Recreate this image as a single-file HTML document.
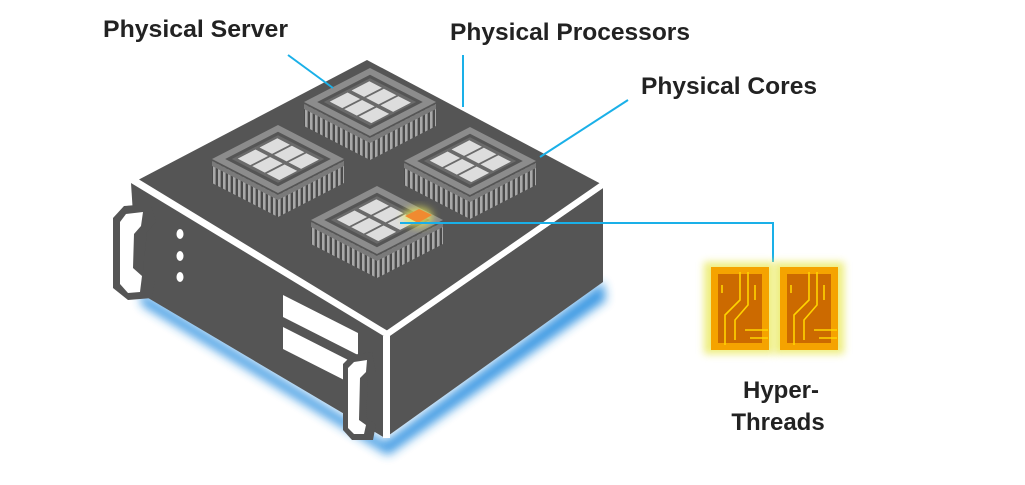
<!DOCTYPE html>
<html><head><meta charset="utf-8"><style>
html,body{margin:0;padding:0;background:#fff;}
svg{display:block}
text{font-family:"Liberation Sans",sans-serif;font-weight:bold;font-size:24px;fill:#222}
</style></head><body>
<svg width="1025" height="485" viewBox="0 0 1025 485">
<defs>
<pattern id="pins" patternUnits="userSpaceOnUse" width="5" height="10">
<rect width="5" height="10" fill="#4a4a4a"/><rect width="2.6" height="10" fill="#a8a8a8"/>
</pattern>
<filter id="blur" x="-20%" y="-20%" width="140%" height="140%"><feGaussianBlur stdDeviation="5"/></filter>
<filter id="glow" x="-30%" y="-30%" width="160%" height="160%"><feGaussianBlur stdDeviation="4"/></filter>
<g id="chip">
<polygon points="-66,0 0,34 66,0 66,22 0,56 -66,22" fill="url(#pins)"/>
<polygon points="-66,0 0,34 66,0 66,5 0,39 -66,5" fill="#7a7a7a"/>
<g transform="matrix(0.66,0.34,-0.66,0.34,0,-36)">
<rect x="0" y="0" width="100" height="100" fill="#8c8c8c"/>
<rect x="10" y="10" width="80" height="80" fill="#555"/>
<rect x="15" y="15" width="70" height="70" fill="#6a6a6a"/>
<rect x="19" y="20" width="19" height="27" fill="#ddd"/>
<rect x="41" y="20" width="19" height="27" fill="#ddd"/>
<rect x="63" y="20" width="19" height="27" fill="#ddd"/>
<rect x="19" y="53" width="19" height="27" fill="#ddd"/>
<rect x="41" y="53" width="19" height="27" fill="#ddd"/>
<rect x="63" y="53" width="19" height="27" fill="#ddd"/>
</g>
</g>
</defs>
<polygon points="140,292 385,442 603,282 606,300 388,455 142,305" fill="#2a8fe0" filter="url(#blur)" opacity="0.9"/>
<polygon points="131,183 387,338 385,438 138,292" fill="#555"/>
<polygon points="387,338 603,188 603,282 385,438" fill="#555"/>
<polygon points="367,60 603,185 387,333 138,180" fill="#555"/>
<polyline points="134,180 387,334 605,183" fill="none" stroke="#fff" stroke-width="6"/>
<rect x="383" y="336" width="7" height="102" fill="#fff"/>
<path d="M124,206 L150,204 L156,222 L147,232 L143,270 L155,280 L152,298 L128,300 L113,288 L113,218 Z" fill="#555"/>
<path d="M126,214 L143,212 L141,226 L134,234 L133,268 L142,276 L140,292 L128,293 L120,284 L120,222 Z" fill="#fff"/>
<ellipse cx="180" cy="234" rx="3.5" ry="5" fill="#fff"/>
<ellipse cx="180" cy="256" rx="3.5" ry="5" fill="#fff"/>
<ellipse cx="180" cy="277" rx="3.5" ry="5" fill="#fff"/>
<polygon points="283,295 358,333 358,355 283,317" fill="#fff"/>
<polygon points="283,327 358,365 358,387 283,349" fill="#fff"/>
<path d="M352,355 L372,352 L376,372 L368,378 L366,418 L376,424 L373,440 L352,440 L343,430 L343,364 Z" fill="#555"/>
<path d="M354,362 L367,360 L366,372 L360,378 L359,420 L366,425 L364,434 L354,434 L348,428 L348,368 Z" fill="#fff"/>
<use href="#chip" transform="translate(370,104)"/>
<use href="#chip" transform="translate(278,161)"/>
<use href="#chip" transform="translate(470,163)"/>
<use href="#chip" transform="translate(377,222)"/>
<ellipse cx="418" cy="217" rx="15" ry="10" fill="#e8e85a" opacity="0.8" filter="url(#glow)"/>
<polygon points="405,216 419,209 432,215 418,223" fill="#f08a30"/>
<g stroke="#1ab0e8" stroke-width="2" fill="none">
<line x1="288" y1="55" x2="333" y2="88"/>
<line x1="463" y1="55" x2="463" y2="107"/>
<line x1="628" y1="100" x2="540" y2="157"/>
<polyline points="400,223 773,223 773,262"/>
</g>
<rect x="704" y="262" width="70" height="92" fill="#ecec70" filter="url(#glow)" opacity="0.9"/>
<rect x="774" y="262" width="70" height="92" fill="#ecec70" filter="url(#glow)" opacity="0.9"/>
<g fill="#f5a300">
<rect x="711" y="267" width="58" height="83"/>
<rect x="780" y="267" width="58" height="83"/>
</g>
<g fill="#cc6a00">
<rect x="718" y="274" width="44" height="69"/>
<rect x="787" y="274" width="44" height="69"/>
</g>
<g stroke="#ffd400" stroke-width="1.6" fill="none">
<path d="M740,272 L740,300 L725,315 L725,345 M748,272 L748,305 L735,320 L735,340 M755,285 L755,300 M745,330 L768,330 M750,338 L768,338 M722,285 l0,8"/>
<path d="M809,272 L809,300 L794,315 L794,345 M817,272 L817,305 L804,320 L804,340 M824,285 L824,300 M814,330 L837,330 M819,338 L837,338 M791,285 l0,8"/>
</g>
<text x="103" y="37" textLength="185" lengthAdjust="spacingAndGlyphs">Physical Server</text>
<text x="450" y="40" textLength="240" lengthAdjust="spacingAndGlyphs">Physical Processors</text>
<text x="641" y="94" textLength="176" lengthAdjust="spacingAndGlyphs">Physical Cores</text>
<text x="781" y="398" text-anchor="middle">Hyper-</text>
<text x="778" y="430" text-anchor="middle">Threads</text>
</svg>
</body></html>
